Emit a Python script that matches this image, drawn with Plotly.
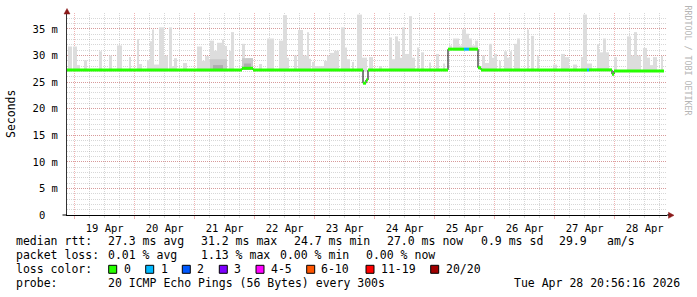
import plotly.graph_objects as go
from datetime import datetime, timedelta

START = datetime(2026, 4, 18, 20, 56, 16)
END = datetime(2026, 4, 28, 20, 56, 16)

# smoke (max ping) spans: hours after START, top in ms
smoke_start_h = [0.4, 2.4, 4.0, 6.8, 12.8, 16.8, 20.0, 24.8, 28.0, 28.8,
                 32.0, 33.2, 34.0, 34.8, 36.8, 38.8, 40.8, 42.0, 42.8, 46.4,
                 52.0, 54.0, 55.2, 56.8, 57.2, 58.8, 60.0, 62.0, 62.8, 64.8,
                 65.6, 70.0, 71.6, 76.8, 80.0, 84.8, 86.4, 88.0, 90.8, 92.4,
                 94.4, 96.0, 96.8, 98.0, 99.2, 102.8, 104.0, 105.2, 106.8, 109.6,
                 111.2, 112.0, 114.0, 116.0, 118.0, 120.8, 124.8, 128.8, 130.0, 131.2,
                 132.4, 133.2, 134.0, 135.2, 136.8, 138.0, 140.0, 141.6, 144.8, 147.6,
                 150.4, 152.8, 154.4, 156.8, 158.0, 159.6, 160.8, 162.0, 163.2, 166.0,
                 167.2, 168.8, 170.0, 170.8, 172.8, 174.8, 176.0, 177.2, 178.8, 180.0,
                 184.0, 185.6, 188.0, 194.4, 197.6, 199.2, 202.4, 205.6, 206.4, 208.0,
                 212.0, 212.8, 214.4, 215.6, 218.8, 224.0, 225.6, 226.8, 228.0, 230.4,
                 232.0, 233.2, 234.4, 237.6]
smoke_end_h = [2.0, 4.0, 5.2, 8.0, 14.0, 18.0, 22.0, 25.6, 28.8, 30.0,
               33.2, 34.0, 34.8, 36.8, 38.8, 40.4, 42.0, 42.8, 44.0, 48.0,
               54.0, 55.2, 56.8, 57.2, 58.8, 60.0, 62.0, 62.8, 64.0, 65.6,
               66.8, 71.2, 74.4, 78.0, 82.8, 86.4, 88.0, 88.8, 92.0, 94.4,
               96.0, 96.8, 97.6, 99.2, 102.8, 104.0, 105.2, 106.8, 108.8, 111.2,
               112.0, 113.2, 114.8, 118.0, 120.0, 122.4, 126.0, 130.0, 131.2, 132.4,
               133.2, 134.0, 135.2, 136.8, 138.0, 139.2, 140.8, 142.8, 145.6, 148.8,
               151.2, 154.0, 156.8, 158.0, 159.6, 160.8, 162.0, 163.2, 164.4, 167.2,
               168.8, 170.0, 170.8, 172.0, 173.6, 176.0, 177.2, 178.0, 180.0, 181.2,
               184.8, 186.8, 188.8, 196.0, 199.2, 200.8, 204.0, 206.4, 208.0, 210.0,
               212.8, 214.4, 215.6, 216.8, 220.0, 225.6, 226.8, 228.0, 229.6, 232.0,
               233.2, 234.4, 236.0, 238.4]
smoke_top_ms = [31.7, 31.7, 28.2, 29.1, 30.8, 30.0, 31.9, 29.7, 33.1, 28.4,
                29.1, 32.7, 34.9, 28.3, 35.3, 30.0, 35.3, 28.0, 29.5, 28.6,
                31.7, 29.0, 29.9, 28.8, 32.8, 30.9, 32.4, 33.0, 31.8, 30.9,
                34.4, 32.2, 29.5, 28.4, 33.2, 32.8, 37.6, 29.6, 30.0, 34.8,
                30.0, 34.4, 29.4, 28.8, 28.0, 29.0, 30.0, 30.5, 30.9, 35.3,
                31.5, 29.3, 28.8, 37.7, 29.6, 29.7, 28.0, 33.4, 29.3, 33.6,
                32.7, 29.6, 35.3, 30.3, 37.4, 29.6, 31.5, 30.6, 28.7, 30.3,
                28.5, 31.9, 33.2, 31.9, 34.9, 34.1, 33.2, 31.9, 32.8, 30.0,
                28.6, 32.2, 29.6, 30.3, 29.0, 30.8, 29.6, 30.8, 32.2, 33.2,
                34.9, 33.7, 30.0, 28.3, 30.3, 29.7, 28.3, 29.7, 37.7, 28.5,
                32.1, 30.6, 33.2, 30.6, 29.7, 33.6, 30.0, 34.4, 30.0, 31.4,
                29.6, 28.2, 29.7, 29.9]

# denser smoke near the median
mid_start_h = [57.2, 70.0]
mid_end_h = [64.0, 74.4]
mid_low_ms = [27.3, 27.3]
mid_high_ms = [29.3, 29.5]
dark_start_h = [58.4, 70.8]
dark_end_h = [62.4, 73.6]
dark_low_ms = [27.3, 27.3]
dark_high_ms = [28.2, 28.5]

# median rtt as steps
median_start_h = [0.0, 70.0, 74.4, 118.4, 119.6, 120.4, 152.4, 158.8, 160.8,
                  164.4, 165.6, 208.0, 208.8, 218.0, 218.8]
median_ms = [27.3, 27.6, 27.3, 24.8, 25.4, 27.3, 31.2, 31.2, 31.2,
             27.7, 27.3, 27.3, 27.3, 26.5, 27.1]
median_loss = [0, 0, 0, 0, 0, 0, 0, 1, 0, 0, 0, 1, 0, 0, 0]
median_end_h = 238.8

loss_labels = ["0", "1", "2", "3", "4-5", "6-10", "11-19", "20/20"]
loss_colors = ["#26ff00", "#00b8ff", "#0059ff", "#7e00ff", "#ff00ff",
               "#ff5500", "#ff0000", "#a10000"]

y_tick_vals = [0, 5, 10, 15, 20, 25, 30, 35]
y_tick_text = ["0\u00a0\u00a0", "5 m", "10 m", "15 m", "20 m", "25 m", "30 m", "35 m"]

stats_rtt = ["27.3 ms avg", "31.2 ms max", "24.7 ms min", "27.0 ms now", "0.9 ms sd", "29.9", "am/s"]
stats_loss = ["0.01 % avg", "1.13 % max", "0.00 % min", "0.00 % now"]
probe_text = "20 ICMP Echo Pings (56 Bytes) every 300s"
stamp_text = "Tue Apr 28 20:56:16 2026"

# ---------------------------------------------------------------
def t(h):
    return START + timedelta(hours=h)

def median_at(h):
    v = median_ms[0]
    for s, m in zip(median_start_h, median_ms):
        if h >= s:
            v = m
    return v

L, T, W, H = 67, 13, 600, 202
def X(px):
    return (px - L) / W
def Y(py):
    return (T + H - py) / H

MONO = "DejaVu Sans Mono"
fig = go.Figure()

def span_bars(starts, ends, lows, highs, color):
    cx = [t((a + b) / 2) for a, b in zip(starts, ends)]
    wd = [(b - a) * 3600 * 1000 for a, b in zip(starts, ends)]
    fig.add_trace(go.Bar(x=cx, y=[hi - lo for lo, hi in zip(lows, highs)], base=lows,
                         width=wd, marker=dict(color=color, line=dict(width=0)),
                         hoverinfo="skip"))

bases = [max(27.0, median_at((a + b) / 2) - 0.3) for a, b in zip(smoke_start_h, smoke_end_h)]
span_bars(smoke_start_h, smoke_end_h, bases, smoke_top_ms, "#dddddd")
span_bars(mid_start_h, mid_end_h, mid_low_ms, mid_high_ms, "#c9c9c9")
span_bars(dark_start_h, dark_end_h, dark_low_ms, dark_high_ms, "#adadad")

# thin black step line
fig.add_trace(go.Scatter(x=[t(h) for h in median_start_h] + [t(median_end_h)],
                         y=median_ms + [median_ms[-1]], mode="lines",
                         line=dict(color="black", width=1, shape="hv"), hoverinfo="skip"))
# coloured median bands
ends = median_start_h[1:] + [median_end_h]
for li, col in enumerate(loss_colors):
    xs, ys = [], []
    for s, e, m, lo in zip(median_start_h, ends, median_ms, median_loss):
        if lo == li:
            xs += [t(s), t(e), None]
            ys += [m, m, None]
    if xs:
        fig.add_trace(go.Scatter(x=xs, y=ys, mode="lines",
                                 line=dict(color=col, width=3), hoverinfo="skip"))

major_grid = "rgba(215,40,40,0.35)"
minor_grid = "rgba(140,140,140,0.35)"

fig.update_layout(
    width=697, height=297, margin=dict(l=L, r=697 - L - W, t=T, b=297 - T - H),
    paper_bgcolor="white", plot_bgcolor="white", showlegend=False, barmode="overlay",
    xaxis=dict(type="date", range=[START, END], tick0="2026-04-19", dtick=86400000,
               ticklabelmode="period", tickformat="%d %b",
               tickfont=dict(family=MONO, size=10.5, color="black"),
               showgrid=True, gridcolor=major_grid, griddash="1px,1px", gridwidth=1,
               showline=True, linecolor="black", linewidth=1,
               ticks="outside", ticklen=3, tickcolor=major_grid, zeroline=False,
               minor=dict(tick0="2026-04-19", dtick=6 * 3600 * 1000, showgrid=True,
                          gridcolor=minor_grid, griddash="1px,1px",
                          ticks="outside", ticklen=2, tickcolor=minor_grid)),
    yaxis=dict(range=[0, 38], tickmode="array", tickvals=y_tick_vals, ticktext=y_tick_text,
               tickfont=dict(family=MONO, size=10.5, color="black"),
               showgrid=True, gridcolor=major_grid, griddash="1px,1px",
               showline=True, linecolor="#333333", linewidth=1, zeroline=False,
               ticks="", ticklabelstandoff=6,
               minor=dict(dtick=1, showgrid=True, gridcolor=minor_grid, griddash="1px,1px")),
)

ann = []
def text(px, py, s, anchor="left", size=11.5, color="black", angle=0, family=MONO):
    ann.append(dict(x=X(px), y=Y(py), xref="paper", yref="paper", text=s,
                    showarrow=False, xanchor=anchor, yanchor="middle", textangle=angle,
                    font=dict(family=family, size=size, color=color), borderpad=0))

rows = [241.5, 255.3, 269.2, 283.0]
text(15, rows[0], "median rtt:")
for px, s in zip([106.5, 199.5, 292.5, 385.5, 479.5, 557.5, 606], stats_rtt):
    text(px, rows[0], s)
text(15, rows[1], "packet loss:")
for px, s in zip([106.5, 199.5, 279.0, 364.5], stats_loss):
    text(px, rows[1], s)
text(15, rows[2], "loss color:")
box_x = [108.7, 145.7, 182.3, 219.3, 256.0, 306.7, 366.0, 430.7]
lab_x = [122.8, 159.5, 196.2, 232.8, 270.2, 320.2, 379.5, 444.5]
shapes = []
for bx, lx, lab, col in zip(box_x, lab_x, loss_labels, loss_colors):
    shapes.append(dict(type="rect", xref="paper", yref="paper", x0=X(bx), x1=X(bx + 8),
                       y0=Y(273.3), y1=Y(265.3), fillcolor=col,
                       line=dict(color="black", width=1)))
    text(lx, rows[2], lab)
text(15, rows[3], "probe:")
text(106.5, rows[3], probe_text)
text(680.5, rows[3], stamp_text, anchor="right")

text(11, 114, "Seconds", angle=-90, size=11.5, anchor="center")
ann.append(dict(x=X(687.5), y=Y(60), xref="paper", yref="paper", text="RRDTOOL / TOBI OETIKER",
                showarrow=False, xanchor="center", yanchor="middle", textangle=90,
                font=dict(family=MONO, size=8.3, color="#b5b5b5")))

arrow = "#8b1a1a"
shapes.append(dict(type="path", xref="paper", yref="paper",
                   path=f"M {X(64)},{Y(14)} L {X(67)},{Y(8.5)} L {X(70)},{Y(14)} Z",
                   fillcolor=arrow, line=dict(color=arrow, width=0.5)))
shapes.append(dict(type="path", xref="paper", yref="paper",
                   path=f"M {X(668.5)},{Y(212.3)} L {X(674)},{Y(215.3)} L {X(668.5)},{Y(218.3)} Z",
                   fillcolor=arrow, line=dict(color=arrow, width=0.5)))
shapes.append(dict(type="line", xref="paper", yref="paper", x0=X(62.5), x1=X(67),
                   y0=0, y1=0, line=dict(color="black", width=1)))
shapes.append(dict(type="line", xref="paper", yref="paper", x0=1, x1=X(669),
                   y0=0, y1=0, line=dict(color="black", width=1)))

fig.update_layout(annotations=ann, shapes=shapes)
fig.write_html("out.html")
